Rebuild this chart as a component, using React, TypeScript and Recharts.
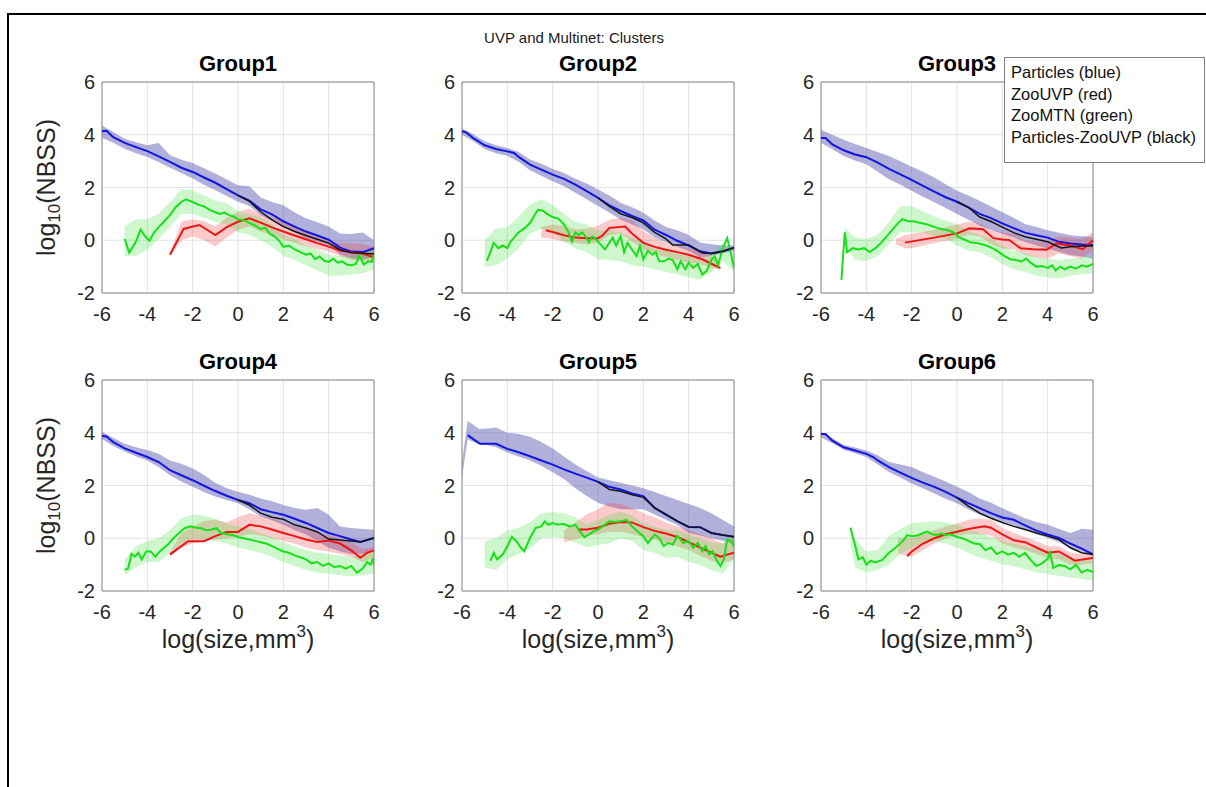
import {
  Area,
  CartesianGrid,
  ComposedChart,
  Line,
  ReferenceArea,
  XAxis,
  YAxis,
} from "recharts";

type Pt = [number, number];
type Band = [number, number, number];

const xTicks = [-6, -4, -2, 0, 2, 4, 6];
const yTicks = [-2, 0, 2, 4, 6];
const groupNames = ["Group1", "Group2", "Group3", "Group4", "Group5", "Group6"];
const legendLabels = ["Particles (blue)", "ZooUVP (red)", "ZooMTN (green)", "Particles-ZooUVP (black)"];

// ---- Group1 ----
const group1Blue: Pt[] = [[-6, 4.13], [-5.8, 4.15], [-5.5, 3.91], [-5, 3.69], [-4.5, 3.53], [-4, 3.38], [-3.5, 3.18], [-3, 2.97], [-2.5, 2.75], [-2, 2.59], [-1.5, 2.38], [-1, 2.18], [-0.5, 1.94], [0, 1.7], [0.5, 1.5], [1, 1.17], [1.5, 0.98], [2, 0.72], [2.5, 0.52], [3, 0.33], [3.5, 0.18], [4, 0.02], [4.5, -0.28], [5, -0.43], [5.5, -0.45], [6, -0.3]];
const group1BlueBand: Band[] = [[-6, 3.89, 4.35], [-5.5, 3.7, 4.1], [-5, 3.47, 3.85], [-4.5, 3.3, 3.72], [-4, 3.16, 3.6], [-3.5, 2.97, 3.69], [-3, 2.75, 3.22], [-2.5, 2.55, 3.05], [-2, 2.34, 2.93], [-1.5, 2.1, 2.73], [-1, 1.9, 2.53], [-0.5, 1.68, 2.3], [0, 1.46, 2.09], [0.5, 1.3, 2.05], [1, 0.96, 1.62], [1.5, 0.74, 1.45], [2, 0.52, 1.33], [2.5, 0.3, 1.05], [3, 0.08, 0.83], [3.5, -0.05, 0.68], [4, -0.18, 0.52], [4.5, -0.55, 0.26], [5, -0.68, 0.24], [5.5, -0.74, 0.29], [6, -0.62, 0.0]];
const group1Black: Pt[] = [[0, 1.7], [0.5, 1.48], [1, 1.08], [1.5, 0.77], [2, 0.52], [2.5, 0.33], [3, 0.18], [3.5, 0.04], [4, -0.11], [4.5, -0.36], [5, -0.47], [5.5, -0.49], [6, -0.52]];
const group1Red: Pt[] = [[-3, -0.55], [-2.4, 0.43], [-2, 0.52], [-1.7, 0.58], [-1, 0.2], [-0.5, 0.5], [0, 0.7], [0.5, 0.83], [1, 0.67], [1.5, 0.49], [2, 0.33], [2.5, 0.18], [3, 0.04], [3.5, -0.11], [4, -0.24], [4.5, -0.39], [5, -0.45], [5.5, -0.5], [6, -0.65]];
const group1RedBand: Band[] = [[-3, -0.6, -0.5], [-2.5, 0.0, 0.7], [-2, 0.14, 0.8], [-1.5, 0.0, 0.72], [-1, -0.24, 0.52], [-0.5, 0.1, 0.85], [0, 0.39, 1.08], [0.5, 0.52, 1.2], [1, 0.33, 1.0], [1.5, 0.18, 0.85], [2, 0.04, 0.7], [2.5, -0.1, 0.5], [3, -0.24, 0.3], [3.5, -0.33, 0.12], [4, -0.43, -0.05], [4.5, -0.6, -0.1], [5, -0.74, -0.11], [5.5, -0.8, -0.15], [6, -0.8, -0.24]];
const group1Green: Pt[] = [[-5, 0.05], [-4.8, -0.47], [-4.5, -0.05], [-4.3, 0.4], [-4.1, 0.15], [-3.9, -0.02], [-3.7, 0.3], [-3.5, 0.5], [-3.25, 0.72], [-3, 0.95], [-2.75, 1.25], [-2.5, 1.45], [-2.3, 1.55], [-2, 1.45], [-1.75, 1.35], [-1.5, 1.28], [-1.25, 1.15], [-1, 1.06], [-0.8, 1.0], [-0.6, 1.05], [-0.4, 0.95], [-0.2, 0.9], [0, 0.8], [0.25, 0.76], [0.5, 0.66], [0.75, 0.56], [1, 0.42], [1.2, 0.48], [1.4, 0.25], [1.6, 0.15], [1.8, 0.0], [2, -0.25], [2.25, -0.2], [2.5, -0.35], [2.75, -0.45], [3, -0.55], [3.2, -0.5], [3.4, -0.72], [3.6, -0.62], [3.8, -0.78], [4, -0.82], [4.2, -0.7], [4.4, -0.85], [4.6, -0.8], [4.8, -0.92], [5, -0.95], [5.2, -0.9], [5.35, -0.6], [5.55, -0.92], [5.75, -0.8], [5.9, -0.82], [6, -0.55]];
const group1GreenBand: Band[] = [[-5, -0.6, 0.55], [-4.5, -0.6, 0.8], [-4, -0.35, 0.8], [-3.5, 0.05, 1.0], [-3, 0.5, 1.45], [-2.5, 1.0, 1.95], [-2, 1.0, 1.9], [-1.5, 0.85, 1.7], [-1, 0.7, 1.5], [-0.5, 0.6, 1.4], [0, 0.3, 1.1], [0.5, 0.2, 1.0], [1, 0.0, 0.85], [1.5, -0.25, 0.6], [2, -0.6, 0.2], [2.5, -0.75, 0.05], [3, -0.95, -0.2], [3.5, -1.15, -0.35], [4, -1.35, -0.55], [4.5, -1.35, -0.6], [5, -1.3, -0.6], [5.5, -1.25, -0.5], [6, -1.1, -0.3]];

// ---- Group2 ----
const group2Blue: Pt[] = [[-6, 4.13], [-5.8, 4.08], [-5.5, 3.87], [-5, 3.6], [-4.5, 3.46], [-4, 3.37], [-3.7, 3.31], [-3.5, 3.16], [-3, 2.87], [-2.5, 2.68], [-2, 2.49], [-1.5, 2.33], [-1, 2.11], [-0.5, 1.86], [0, 1.61], [0.5, 1.32], [1, 1.11], [1.5, 0.92], [2, 0.75], [2.5, 0.4], [3, 0.2], [3.5, -0.02], [4, -0.2], [4.5, -0.42], [5, -0.5], [5.5, -0.42], [6, -0.28]];
const group2BlueBand: Band[] = [[-6, 4.0, 4.25], [-5.5, 3.75, 4.02], [-5, 3.46, 3.75], [-4.5, 3.3, 3.6], [-4, 3.2, 3.5], [-3.5, 2.98, 3.35], [-3, 2.65, 3.06], [-2.5, 2.45, 2.9], [-2, 2.24, 2.7], [-1.5, 2.05, 2.55], [-1, 1.8, 2.33], [-0.5, 1.55, 2.15], [0, 1.3, 1.92], [0.5, 1.05, 1.7], [1, 0.79, 1.42], [1.5, 0.6, 1.25], [2, 0.42, 1.04], [2.5, 0.1, 0.75], [3, -0.09, 0.5], [3.5, -0.25, 0.38], [4, -0.4, 0.2], [4.5, -0.65, -0.09], [5, -0.59, -0.15], [5.5, -0.5, -0.2], [6, -0.4, -0.19]];
const group2Black: Pt[] = [[0, 1.61], [0.5, 1.28], [1, 1.0], [1.5, 0.86], [2, 0.66], [2.5, 0.3], [3, 0.05], [3.3, -0.18], [4, -0.18], [4.6, -0.48], [5, -0.5], [5.5, -0.42], [6, -0.28]];
const group2Red: Pt[] = [[-2.3, 0.38], [-2, 0.31], [-1.5, 0.19], [-1, 0.1], [-0.5, 0.08], [0, 0.08], [0.2, 0.18], [0.5, 0.47], [1.2, 0.52], [1.5, 0.26], [2, -0.1], [2.5, -0.25], [3, -0.36], [3.5, -0.45], [4, -0.55], [4.6, -0.72], [5.4, -1.06]];
const group2RedBand: Band[] = [[-2.5, 0.1, 0.5], [-2, 0.05, 0.6], [-1.5, -0.05, 0.55], [-1, -0.1, 0.42], [-0.5, -0.15, 0.45], [0, -0.1, 0.55], [0.5, 0.2, 0.78], [1, 0.25, 0.85], [1.5, -0.05, 0.75], [2, -0.35, 0.35], [2.5, -0.5, 0.1], [3, -0.65, -0.1], [3.5, -0.75, -0.2], [4, -0.85, -0.3], [4.5, -0.9, -0.4], [5, -1.05, -0.6], [5.4, -1.1, -0.95]];
const group2Green: Pt[] = [[-4.9, -0.78], [-4.75, -0.45], [-4.6, -0.1], [-4.4, -0.3], [-4.2, -0.2], [-4, -0.3], [-3.85, -0.05], [-3.7, 0.1], [-3.5, 0.3], [-3.25, 0.45], [-3, 0.65], [-2.8, 0.95], [-2.65, 1.15], [-2.45, 1.13], [-2.25, 1.0], [-2, 0.88], [-1.75, 0.82], [-1.5, 0.6], [-1.3, 0.3], [-1.15, -0.05], [-1, 0.3], [-0.85, 0.2], [-0.7, 0.3], [-0.55, 0.15], [-0.4, -0.08], [-0.25, 0.15], [-0.1, 0.05], [0.1, -0.15], [0.3, -0.35], [0.5, -0.1], [0.65, 0.1], [0.8, -0.2], [1.0, 0.15], [1.15, -0.45], [1.3, -0.1], [1.5, -0.35], [1.7, -0.6], [1.85, -0.22], [2.0, -0.72], [2.2, -0.4], [2.4, -0.55], [2.55, -0.45], [2.7, -0.8], [2.9, -0.8], [3.1, -0.7], [3.3, -0.75], [3.5, -1.1], [3.65, -0.8], [3.85, -1.1], [4.0, -0.85], [4.2, -1.05], [4.4, -0.9], [4.6, -1.3], [4.8, -1.15], [5.0, -0.75], [5.15, -0.6], [5.3, -0.95], [5.5, -0.3], [5.7, 0.08], [5.85, -0.45], [6, -1.05]];
const group2GreenBand: Band[] = [[-5, -1.0, 0.0], [-4.5, -0.95, 0.45], [-4, -0.7, 0.5], [-3.5, -0.3, 0.9], [-3, 0.25, 1.35], [-2.5, 0.45, 1.55], [-2, 0.3, 1.35], [-1.5, -0.05, 1.0], [-1, -0.3, 0.7], [-0.5, -0.45, 0.6], [0, -0.72, 0.35], [0.5, -0.75, 0.35], [1, -0.8, 0.3], [1.5, -0.95, 0.1], [2, -1.0, -0.1], [2.5, -1.1, -0.3], [3, -1.2, -0.4], [3.5, -1.3, -0.5], [4, -1.4, -0.6], [4.5, -1.5, -0.7], [5, -1.2, -0.5], [5.5, -0.8, -0.1], [6, -1.2, -0.5]];

// ---- Group3 ----
const group3Blue: Pt[] = [[-6, 3.88], [-5.8, 3.88], [-5.5, 3.63], [-5, 3.41], [-4.5, 3.25], [-4, 3.15], [-3.5, 2.94], [-3, 2.71], [-2.5, 2.5], [-2, 2.29], [-1.5, 2.06], [-1, 1.84], [-0.5, 1.63], [0, 1.46], [0.5, 1.25], [1, 1.0], [1.5, 0.84], [2, 0.64], [2.5, 0.46], [3, 0.29], [3.5, 0.19], [4, 0.1], [4.5, -0.06], [5, -0.12], [5.5, -0.16], [6, -0.18]];
const group3BlueBand: Band[] = [[-6, 3.69, 4.19], [-5.5, 3.45, 4.0], [-5, 3.19, 3.81], [-4.5, 3.02, 3.65], [-4, 2.88, 3.5], [-3.5, 2.6, 3.35], [-3, 2.31, 3.19], [-2.5, 2.1, 3.0], [-2, 1.88, 2.79], [-1.5, 1.65, 2.6], [-1, 1.44, 2.38], [-0.5, 1.22, 2.12], [0, 1.0, 1.88], [0.5, 0.78, 1.7], [1, 0.56, 1.5], [1.5, 0.4, 1.28], [2, 0.25, 1.06], [2.5, 0.1, 0.85], [3, -0.06, 0.62], [3.5, -0.2, 0.5], [4, -0.31, 0.38], [4.5, -0.45, 0.28], [5, -0.56, 0.19], [5.5, -0.62, 0.15], [6, -0.69, 0.12]];
const group3Black: Pt[] = [[0, 1.46], [0.5, 1.25], [1, 0.88], [1.5, 0.71], [2, 0.5], [2.5, 0.29], [3, 0.13], [3.5, 0.04], [4, -0.06], [4.6, -0.29], [5, -0.25], [5.5, -0.22], [6, -0.22]];
const group3Red: Pt[] = [[-2.3, -0.09], [-1, 0.1], [0, 0.26], [0.55, 0.45], [1.15, 0.42], [1.6, 0.08], [2, 0.03], [2.3, 0.01], [2.8, -0.3], [3.35, -0.34], [3.95, -0.36], [4.4, -0.12], [5, -0.2], [5.55, -0.34], [6, 0.0]];
const group3RedBand: Band[] = [[-2.7, -0.15, 0.05], [-2.3, -0.3, 0.2], [-2, -0.3, 0.25], [-1, -0.1, 0.4], [0, 0.05, 0.6], [0.5, 0.2, 0.7], [1, 0.15, 0.65], [1.5, -0.15, 0.4], [2, -0.3, 0.3], [2.5, -0.35, 0.25], [3, -0.55, 0.0], [3.5, -0.65, -0.05], [4, -0.7, -0.05], [4.5, -0.5, 0.15], [5, -0.6, 0.1], [5.5, -0.7, 0.05], [6, -0.4, 0.3]];
const group3Green: Pt[] = [[-5.1, -1.5], [-4.95, 0.3], [-4.85, -0.45], [-4.6, -0.3], [-4.35, -0.35], [-4.1, -0.3], [-3.85, -0.45], [-3.6, -0.3], [-3.35, -0.1], [-3.1, 0.15], [-2.85, 0.4], [-2.6, 0.65], [-2.4, 0.8], [-2.15, 0.72], [-1.9, 0.72], [-1.65, 0.66], [-1.4, 0.62], [-1.15, 0.55], [-0.9, 0.48], [-0.65, 0.42], [-0.4, 0.38], [-0.15, 0.3], [0.1, 0.1], [0.35, 0.02], [0.6, -0.08], [0.85, -0.1], [1.1, -0.15], [1.35, -0.22], [1.6, -0.32], [1.85, -0.45], [2.1, -0.6], [2.35, -0.72], [2.6, -0.75], [2.85, -0.8], [3.05, -0.7], [3.25, -0.85], [3.5, -1.0], [3.75, -0.98], [4.0, -1.05], [4.2, -0.95], [4.35, -1.15], [4.55, -1.0], [4.75, -1.1], [5.0, -1.0], [5.25, -1.08], [5.5, -0.95], [5.75, -1.0], [6.0, -0.9]];
const group3GreenBand: Band[] = [[-5.1, -1.6, -1.4], [-4.95, -0.1, 0.5], [-4.5, -0.75, 0.1], [-4, -0.8, 0.05], [-3.5, -0.6, 0.2], [-3, -0.15, 0.7], [-2.5, 0.3, 1.3], [-2, 0.3, 1.3], [-1.5, 0.3, 1.1], [-1, 0.15, 0.9], [-0.5, 0.05, 0.75], [0, -0.2, 0.6], [0.5, -0.4, 0.35], [1, -0.45, 0.2], [1.5, -0.65, 0.05], [2, -0.9, -0.2], [2.5, -1.1, -0.4], [3, -1.2, -0.5], [3.5, -1.35, -0.65], [4, -1.4, -0.7], [4.5, -1.45, -0.75], [5, -1.35, -0.7], [5.5, -1.3, -0.65], [6, -1.25, -0.6]];

// ---- Group4 ----
const group4Blue: Pt[] = [[-6, 3.89], [-5.8, 3.86], [-5.5, 3.64], [-5, 3.41], [-4.5, 3.24], [-4, 3.08], [-3.5, 2.89], [-3, 2.58], [-2.5, 2.39], [-2, 2.2], [-1.5, 1.99], [-1, 1.79], [-0.5, 1.61], [0, 1.45], [0.5, 1.33], [1, 1.1], [1.5, 0.99], [2, 0.89], [2.5, 0.74], [3, 0.58], [3.5, 0.39], [4, 0.2], [4.5, 0.08], [5, -0.05], [5.4, -0.14], [6, 0.01]];
const group4BlueBand: Band[] = [[-6, 3.76, 4.04], [-5.5, 3.5, 3.8], [-5, 3.29, 3.58], [-4.5, 3.1, 3.45], [-4, 2.95, 3.35], [-3.5, 2.7, 3.2], [-3, 2.39, 2.95], [-2.5, 2.15, 2.82], [-2, 1.95, 2.64], [-1.5, 1.75, 2.4], [-1, 1.58, 2.1], [-0.5, 1.45, 1.9], [0, 1.33, 1.76], [0.5, 1.1, 1.65], [1, 0.83, 1.51], [1.5, 0.68, 1.4], [2, 0.51, 1.26], [2.5, 0.3, 1.15], [3, 0.14, 1.08], [3.5, -0.1, 1.15], [4, -0.36, 0.89], [4.5, -0.49, 0.45], [5, -0.61, 0.39], [5.5, -0.6, 0.35], [6, -0.49, 0.32]];
const group4Black: Pt[] = [[0, 1.45], [0.5, 1.26], [1, 0.95], [1.5, 0.8], [2, 0.72], [2.5, 0.51], [3, 0.39], [3.5, 0.24], [4, -0.03], [4.5, -0.07], [5, -0.1], [5.4, -0.14], [6, 0.01]];
const group4Red: Pt[] = [[-3, -0.61], [-2.5, -0.3], [-2.2, -0.11], [-1.5, -0.11], [-1, 0.08], [-0.5, 0.24], [0, 0.24], [0.5, 0.51], [1, 0.45], [1.5, 0.33], [2, 0.2], [2.5, 0.08], [3, -0.05], [3.5, -0.14], [4, -0.09], [4.5, -0.2], [5, -0.46], [5.4, -0.74], [5.7, -0.55], [6, -0.46]];
const group4RedBand: Band[] = [[-3, -0.7, -0.55], [-2.5, -0.35, 0.2], [-2, -0.2, 0.45], [-1.5, -0.1, 0.65], [-1, -0.05, 0.7], [-0.5, 0.0, 0.6], [0, 0.05, 0.8], [0.5, 0.15, 0.95], [1, 0.1, 0.85], [1.5, 0.0, 0.75], [2, -0.1, 0.6], [2.5, -0.2, 0.45], [3, -0.35, 0.35], [3.5, -0.45, 0.2], [4, -0.5, 0.1], [4.5, -0.6, 0.0], [5, -0.7, -0.15], [5.5, -0.9, -0.4], [6, -0.75, -0.3]];
const group4Green: Pt[] = [[-5, -1.2], [-4.85, -1.15], [-4.7, -0.6], [-4.55, -0.7], [-4.4, -0.55], [-4.25, -0.8], [-4.05, -0.5], [-3.85, -0.5], [-3.65, -0.7], [-3.45, -0.5], [-3.25, -0.35], [-3.05, -0.2], [-2.85, 0.0], [-2.6, 0.2], [-2.35, 0.38], [-2.1, 0.45], [-1.85, 0.4], [-1.6, 0.38], [-1.4, 0.3], [-1.2, 0.32], [-0.95, 0.38], [-0.75, 0.2], [-0.5, 0.15], [-0.25, 0.12], [0, 0.05], [0.25, 0.0], [0.5, -0.05], [0.75, -0.1], [1.0, -0.15], [1.25, -0.2], [1.5, -0.3], [1.75, -0.4], [2.0, -0.5], [2.25, -0.55], [2.5, -0.65], [2.75, -0.72], [3.0, -0.8], [3.25, -0.95], [3.5, -0.9], [3.75, -1.05], [4.0, -0.95], [4.25, -1.1], [4.5, -1.05], [4.75, -1.15], [5.0, -1.05], [5.25, -1.3], [5.5, -1.15], [5.7, -0.9], [5.85, -1.0], [5.95, -0.75], [6, -1.05]];
const group4GreenBand: Band[] = [[-5, -1.4, -0.8], [-4.5, -1.1, -0.3], [-4, -0.9, -0.1], [-3.5, -0.9, 0.0], [-3, -0.55, 0.3], [-2.5, -0.2, 0.75], [-2, 0.0, 0.9], [-1.5, -0.05, 0.85], [-1, -0.1, 0.75], [-0.5, -0.2, 0.55], [0, -0.35, 0.45], [0.5, -0.45, 0.35], [1, -0.55, 0.2], [1.5, -0.7, 0.05], [2, -0.9, -0.15], [2.5, -1.05, -0.3], [3, -1.2, -0.45], [3.5, -1.3, -0.55], [4, -1.35, -0.6], [4.5, -1.4, -0.65], [5, -1.45, -0.7], [5.5, -1.4, -0.65], [6, -1.35, -0.5]];

// ---- Group5 ----
const group5Blue: Pt[] = [[-5.75, 3.91], [-5.5, 3.76], [-5.2, 3.58], [-5, 3.58], [-4.5, 3.58], [-4, 3.39], [-3.5, 3.26], [-3, 3.11], [-2.5, 2.95], [-2, 2.79], [-1.5, 2.61], [-1, 2.45], [-0.5, 2.3], [0, 2.14], [0.5, 1.95], [1, 1.85], [1.5, 1.7], [2, 1.6], [2.5, 1.15], [3, 0.9], [3.5, 0.65], [4, 0.43], [4.5, 0.42], [5, 0.2], [5.5, 0.12], [6, 0.06]];
const group5BlueBand: Band[] = [[-6, 2.3, 2.9], [-5.75, 3.75, 4.45], [-5.25, 3.55, 4.15], [-5, 3.55, 4.15], [-4.5, 3.45, 4.2], [-4, 3.25, 4.0], [-3.5, 3.1, 3.95], [-3, 2.95, 3.85], [-2.5, 2.75, 3.65], [-2, 2.5, 3.4], [-1.5, 2.25, 3.1], [-1, 1.9, 2.8], [-0.5, 1.6, 2.55], [0, 1.35, 2.3], [0.5, 1.2, 2.2], [1, 1.1, 2.1], [1.5, 1.1, 2.0], [2, 1.1, 1.9], [2.5, 0.9, 1.75], [3, 0.7, 1.6], [3.5, 0.5, 1.45], [4, 0.2, 1.3], [4.5, 0.1, 1.15], [5, 0.0, 0.95], [5.5, -0.1, 0.7], [6, -0.2, 0.45]];
const group5Black: Pt[] = [[0, 2.14], [0.5, 1.85], [1, 1.78], [1.5, 1.65], [2, 1.55], [2.5, 1.15], [3, 0.9], [3.5, 0.65], [4, 0.43], [4.5, 0.42], [5, 0.2], [5.5, 0.12], [6, 0.06]];
const group5Red: Pt[] = [[-0.9, 0.33], [-0.5, 0.33], [0, 0.4], [0.5, 0.55], [1, 0.62], [1.5, 0.6], [2, 0.42], [2.5, 0.28], [3, 0.18], [3.5, 0.05], [4, -0.15], [4.5, -0.35], [5, -0.55], [5.4, -0.7], [5.7, -0.62], [6, -0.55]];
const group5RedBand: Band[] = [[-1.5, -0.15, 0.3], [-1, -0.05, 0.6], [-0.5, 0.1, 0.9], [0, 0.15, 1.1], [0.5, 0.25, 1.35], [1, 0.25, 1.3], [1.5, 0.15, 1.15], [2, 0.05, 0.95], [2.5, -0.05, 0.8], [3, -0.2, 0.6], [3.5, -0.3, 0.45], [4, -0.45, 0.3], [4.5, -0.65, 0.15], [5, -0.85, 0.0], [5.5, -0.95, -0.2], [6, -0.8, 0.0]];
const group5Green: Pt[] = [[-4.75, -0.86], [-4.6, -0.55], [-4.45, -0.8], [-4.2, -0.61], [-4, -0.3], [-3.8, 0.05], [-3.6, -0.11], [-3.4, -0.36], [-3.25, -0.49], [-3, 0.01], [-2.75, 0.39], [-2.5, 0.45], [-2.35, 0.64], [-2.2, 0.51], [-2, 0.58], [-1.8, 0.52], [-1.5, 0.54], [-1.25, 0.45], [-1, 0.51], [-0.8, 0.26], [-0.6, 0.04], [-0.4, 0.14], [-0.2, 0.26], [0, 0.33], [0.2, 0.45], [0.5, 0.64], [0.75, 0.62], [1, 0.64], [1.25, 0.7], [1.5, 0.45], [1.75, 0.26], [2, 0.08], [2.2, -0.18], [2.5, 0.14], [2.7, 0.01], [2.9, -0.3], [3.1, -0.18], [3.3, -0.24], [3.5, 0.08], [3.6, 0.01], [3.75, -0.18], [4, -0.11], [4.2, -0.36], [4.4, -0.18], [4.6, -0.49], [4.75, -0.3], [4.9, -0.61], [5.05, -0.49], [5.25, -0.86], [5.4, -1.05], [5.55, -0.8], [5.7, -0.05], [5.85, -0.1], [6, -0.3]];
const group5GreenBand: Band[] = [[-5, -1.1, -0.1], [-4.5, -1.2, 0.0], [-4, -0.8, 0.3], [-3.5, -0.6, 0.4], [-3, -0.4, 0.6], [-2.5, 0.0, 0.95], [-2, 0.05, 1.0], [-1.5, 0.0, 0.95], [-1, -0.15, 0.8], [-0.5, -0.35, 0.5], [0, -0.25, 0.7], [0.5, -0.2, 0.9], [1, 0.0, 1.0], [1.5, -0.1, 0.85], [2, -0.45, 0.55], [2.5, -0.55, 0.45], [3, -0.75, 0.3], [3.5, -0.7, 0.3], [4, -0.9, 0.15], [4.5, -1.0, 0.0], [5, -1.2, -0.15], [5.5, -1.35, -0.2], [6, -0.8, 0.2]];

// ---- Group6 ----
const group6Blue: Pt[] = [[-6, 3.95], [-5.8, 3.95], [-5.5, 3.7], [-5, 3.45], [-4.5, 3.33], [-4, 3.2], [-3.7, 3.08], [-3.5, 2.95], [-3, 2.7], [-2.5, 2.49], [-2, 2.29], [-1.5, 2.11], [-1, 1.95], [-0.5, 1.76], [0, 1.54], [0.5, 1.33], [1, 1.14], [1.5, 0.95], [2, 0.79], [2.5, 0.7], [3, 0.49], [3.5, 0.29], [4, 0.14], [4.5, 0.01], [5, -0.2], [5.5, -0.39], [6, -0.61]];
const group6BlueBand: Band[] = [[-6, 3.82, 4.04], [-5.5, 3.6, 3.8], [-5, 3.36, 3.54], [-4.5, 3.22, 3.44], [-4, 3.08, 3.33], [-3.5, 2.8, 3.15], [-3, 2.51, 2.89], [-2.5, 2.3, 2.8], [-2, 2.08, 2.7], [-1.5, 1.9, 2.5], [-1, 1.7, 2.33], [-0.5, 1.5, 2.15], [0, 1.33, 1.95], [0.5, 1.1, 1.75], [1, 0.89, 1.51], [1.5, 0.75, 1.35], [2, 0.64, 1.14], [2.5, 0.48, 0.95], [3, 0.33, 0.76], [3.5, 0.15, 0.62], [4, 0.01, 0.51], [4.5, -0.15, 0.35], [5, -0.36, 0.2], [5.5, -0.49, 0.36], [6, -0.68, 0.32]];
const group6Black: Pt[] = [[0, 1.54], [0.5, 1.22], [1, 0.95], [1.5, 0.76], [2, 0.6], [2.5, 0.45], [3, 0.33], [3.5, 0.2], [4, 0.08], [4.5, -0.05], [5, -0.36], [5.5, -0.55], [6, -0.62]];
const group6Red: Pt[] = [[-2.2, -0.68], [-2, -0.5], [-1.5, -0.2], [-1, 0.0], [-0.5, 0.15], [0, 0.25], [0.5, 0.35], [1.2, 0.45], [1.5, 0.4], [2, 0.15], [2.5, -0.08], [3, -0.15], [3.5, -0.35], [4, -0.55], [4.5, -0.5], [5.2, -0.85], [5.6, -0.8], [6, -0.75]];
const group6RedBand: Band[] = [[-2.6, -0.6, 0.0], [-2, -0.7, 0.0], [-1.5, -0.45, 0.15], [-1, -0.2, 0.3], [-0.5, 0.0, 0.45], [0, 0.1, 0.55], [0.5, 0.15, 0.7], [1, 0.15, 0.75], [1.5, 0.1, 0.7], [2, -0.2, 0.4], [2.5, -0.35, 0.2], [3, -0.45, 0.05], [3.5, -0.6, -0.1], [4, -0.75, -0.3], [4.5, -0.8, -0.3], [5, -1.0, -0.55], [5.5, -1.0, -0.6], [6, -0.95, -0.55]];
const group6Green: Pt[] = [[-4.7, 0.4], [-4.5, -0.25], [-4.35, -0.8], [-4.15, -0.72], [-4, -1.0], [-3.8, -0.85], [-3.6, -0.92], [-3.3, -0.82], [-3, -0.55], [-2.7, -0.35], [-2.4, -0.12], [-2.2, 0.12], [-2, 0.08], [-1.75, 0.1], [-1.5, 0.2], [-1.3, 0.25], [-1.1, 0.15], [-0.9, 0.12], [-0.7, 0.18], [-0.5, 0.12], [-0.3, 0.15], [0, 0.05], [0.25, 0.0], [0.5, -0.1], [0.75, -0.2], [1, -0.22], [1.25, -0.45], [1.5, -0.35], [1.75, -0.6], [2, -0.5], [2.25, -0.62], [2.5, -0.55], [2.75, -0.7], [3, -0.55], [3.25, -0.82], [3.5, -1.05], [3.75, -0.95], [4, -0.78], [4.1, -0.55], [4.25, -1.12], [4.5, -1.02], [4.75, -1.05], [5, -1.18], [5.25, -1.0], [5.5, -1.3], [5.75, -1.2], [6, -1.28]];
const group6GreenBand: Band[] = [[-4.7, -0.2, 0.5], [-4.5, -1.1, 0.0], [-4, -1.3, -0.5], [-3.5, -1.2, -0.45], [-3, -0.99, 0.08], [-2.5, -0.6, 0.35], [-2, -0.36, 0.58], [-1.5, -0.2, 0.6], [-1, -0.11, 0.64], [-0.5, -0.2, 0.6], [0, -0.36, 0.51], [0.5, -0.55, 0.35], [1, -0.74, 0.2], [1.5, -0.85, 0.05], [2, -0.99, -0.11], [2.5, -1.05, -0.2], [3, -1.18, -0.3], [3.5, -1.3, -0.4], [4, -1.36, -0.49], [4.5, -1.42, -0.6], [5, -1.49, -0.74], [5.5, -1.55, -0.8], [6, -1.6, -0.86]];

const groups = [
  { blue: group1Blue, blueBand: group1BlueBand, black: group1Black, red: group1Red, redBand: group1RedBand, green: group1Green, greenBand: group1GreenBand },
  { blue: group2Blue, blueBand: group2BlueBand, black: group2Black, red: group2Red, redBand: group2RedBand, green: group2Green, greenBand: group2GreenBand },
  { blue: group3Blue, blueBand: group3BlueBand, black: group3Black, red: group3Red, redBand: group3RedBand, green: group3Green, greenBand: group3GreenBand },
  { blue: group4Blue, blueBand: group4BlueBand, black: group4Black, red: group4Red, redBand: group4RedBand, green: group4Green, greenBand: group4GreenBand },
  { blue: group5Blue, blueBand: group5BlueBand, black: group5Black, red: group5Red, redBand: group5RedBand, green: group5Green, greenBand: group5GreenBand },
  { blue: group6Blue, blueBand: group6BlueBand, black: group6Black, red: group6Red, redBand: group6RedBand, green: group6Green, greenBand: group6GreenBand },
];

// layout (page pixels of each plot box)
const plotLefts = [102, 462, 821];
const plotTops = [82, 380];
const plotW = 272;
const plotH = 211;
const M = { top: 30, right: 20, left: 30, bottom: 40 };
const Y_AXIS_W = 50;
const X_AXIS_H = 40;

const font = '"Liberation Sans", Arial, Helvetica, sans-serif';
const tickStyle = { fontSize: 20, fill: "#262626", fontFamily: font };

const toLine = (pts: Pt[]) => pts.map(([x, y]) => ({ x, y }));
const toBand = (pts: Band[]) => pts.map(([x, lo, hi]) => ({ x, band: [lo, hi] }));

const renderYTitle = (props: any) => {
  const vb = props.viewBox || { x: M.left, y: M.top, width: Y_AXIS_W, height: plotH };
  const cx = vb.x + vb.width - 53;
  const cy = vb.y + vb.height / 2;
  return (
    <text
      x={cx}
      y={cy}
      dy={6}
      transform={`rotate(-90 ${cx} ${cy})`}
      textAnchor="middle"
      fontSize={25}
      fill="#262626"
      fontFamily={font}
    >
      log
      <tspan fontSize={17} dy={5}>10</tspan>
      <tspan dy={-5}>(NBSS)</tspan>
    </text>
  );
};

const renderXTitle = (props: any) => {
  const vb = props.viewBox || { x: M.left + Y_AXIS_W, y: M.top + plotH, width: plotW, height: X_AXIS_H };
  const cx = vb.x + vb.width / 2;
  const by = vb.y + 57;
  return (
    <text x={cx} y={by} textAnchor="middle" fontSize={25} fill="#262626" fontFamily={font}>
      log(size,mm
      <tspan fontSize={17} dy={-11}>3</tspan>
      <tspan dy={11}>)</tspan>
    </text>
  );
};

type PanelProps = { index: number };

const Panel = ({ index }: PanelProps) => {
  const g = groups[index];
  const row = Math.floor(index / 3);
  const col = index % 3;
  const left = plotLefts[col];
  const top = plotTops[row];
  return (
    <>
      <div
        style={{
          position: "absolute",
          left,
          top: top - 32,
          width: plotW,
          textAlign: "center",
          fontFamily: font,
          fontWeight: "bold",
          fontSize: 22,
          lineHeight: "27px",
          color: "#000",
        }}
      >
        {groupNames[index]}
      </div>
      <div style={{ position: "absolute", left: left - M.left - Y_AXIS_W, top: top - M.top }}>
        <ComposedChart
          width={plotW + M.left + Y_AXIS_W + M.right}
          height={plotH + M.top + M.bottom + X_AXIS_H}
          margin={M}
        >
          <CartesianGrid stroke="#e3e3e3" />
          <XAxis
            type="number"
            dataKey="x"
            domain={[-6, 6]}
            ticks={xTicks}
            interval={0}
            allowDataOverflow
            axisLine={false}
            tickLine={false}
            tickSize={6}
            tickMargin={8}
            height={X_AXIS_H}
            tick={tickStyle}
            label={row === 1 ? { content: renderXTitle } : undefined}
          />
          <YAxis
            type="number"
            domain={[-2, 6]}
            ticks={yTicks}
            interval={0}
            allowDataOverflow
            axisLine={false}
            tickLine={false}
            tickSize={6}
            tickMargin={1}
            width={Y_AXIS_W}
            tick={tickStyle}
            label={col === 0 ? { content: renderYTitle } : undefined}
          />
          <Area data={toBand(g.blueBand)} dataKey="band" type="linear" stroke="none" fill="#5050b0" fillOpacity={0.45} isAnimationActive={false} />
          <Area data={toBand(g.redBand)} dataKey="band" type="linear" stroke="none" fill="#f04040" fillOpacity={0.28} isAnimationActive={false} />
          <Area data={toBand(g.greenBand)} dataKey="band" type="linear" stroke="none" fill="#40e040" fillOpacity={0.26} isAnimationActive={false} />
          <Line data={toLine(g.blue)} dataKey="y" type="linear" stroke="#1414e0" strokeWidth={2} dot={false} isAnimationActive={false} />
          <Line data={toLine(g.red)} dataKey="y" type="linear" stroke="#ee1515" strokeWidth={2} dot={false} isAnimationActive={false} />
          <Line data={toLine(g.green)} dataKey="y" type="linear" stroke="#18e018" strokeWidth={2} dot={false} isAnimationActive={false} />
          <Line data={toLine(g.black)} dataKey="y" type="linear" stroke="#151515" strokeWidth={1.5} dot={false} isAnimationActive={false} />
          <ReferenceArea x1={-6} x2={6} y1={-2} y2={6} fill="none" stroke="#8a8a8a" strokeWidth={1} />
        </ComposedChart>
      </div>
    </>
  );
};

export default function App() {
  return (
    <div
      style={{
        position: "fixed",
        left: 0,
        top: 0,
        width: 1206,
        height: 787,
        overflow: "hidden",
        background: "#fff",
        fontFamily: font,
      }}
    >
      <div
        style={{
          position: "absolute",
          left: 7,
          top: 13,
          width: 1400,
          height: 1000,
          borderTop: "2px solid #000",
          borderLeft: "2px solid #000",
        }}
      />
      <div
        style={{
          position: "absolute",
          left: 424,
          top: 29,
          width: 300,
          textAlign: "center",
          fontSize: 15,
          lineHeight: "18px",
          color: "#1a1a1a",
        }}
      >
        UVP and Multinet: Clusters
      </div>
      {groupNames.map((name, i) => (
        <Panel key={name} index={i} />
      ))}
      <div
        style={{
          position: "absolute",
          left: 1004,
          top: 57,
          width: 201,
          height: 106,
          boxSizing: "border-box",
          border: "1px solid #808080",
          background: "#fff",
          padding: "4px 0 0 6px",
          fontSize: 16.5,
          lineHeight: "21.7px",
          color: "#111",
          zIndex: 5,
        }}
      >
        {legendLabels.map((label) => (
          <div key={label}>{label}</div>
        ))}
      </div>
    </div>
  );
}
